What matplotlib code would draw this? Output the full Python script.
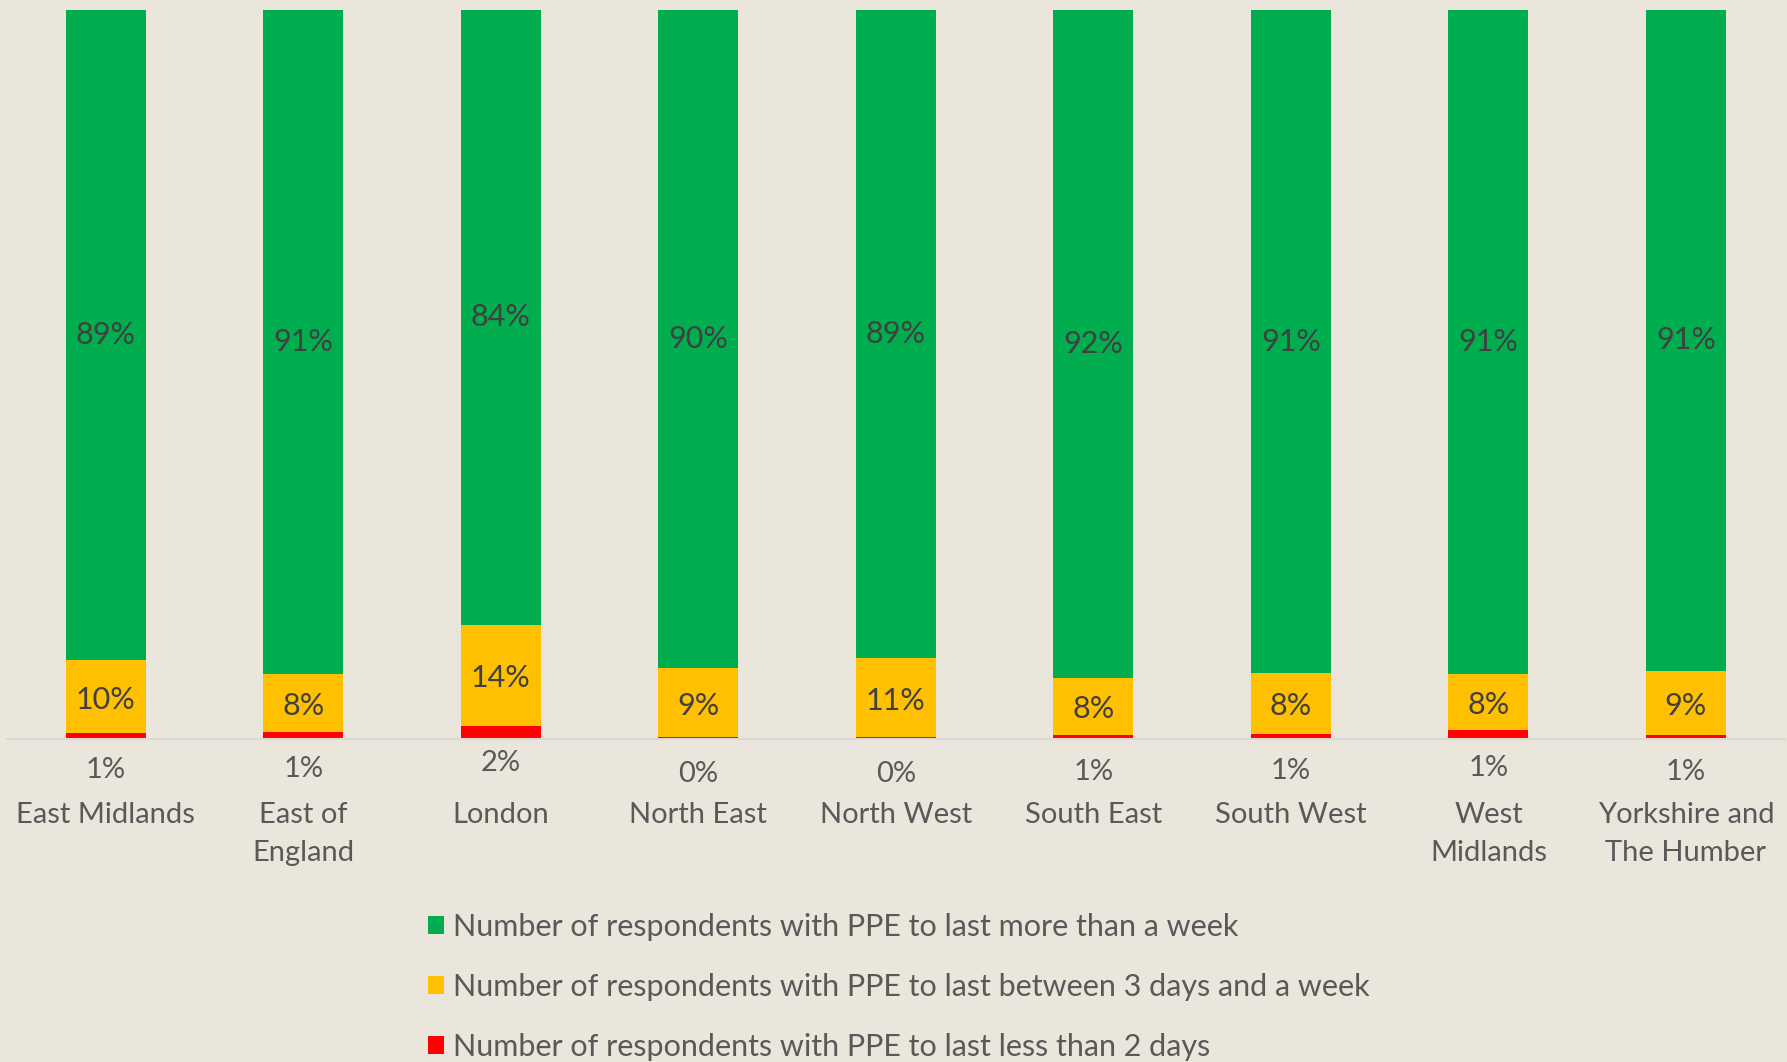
import matplotlib
matplotlib.use("Agg")
import matplotlib.pyplot as plt
import numpy as np

regions = ["East Midlands", "East of\nEngland", "London", "North East", "North West",
           "South East", "South West", "West\nMidlands", "Yorkshire and\nThe Humber"]
more_week = [89.2, 91.0, 84.3, 90.3, 88.9, 91.6, 90.9, 91.0, 90.6]
three_days_week = [10.0, 8.0, 13.9, 9.4, 10.8, 7.8, 8.4, 7.8, 8.8]
less_2days = [0.8, 1.0, 1.8, 0.3, 0.3, 0.6, 0.7, 1.2, 0.6]
legend_labels = ["Number of respondents with PPE to last more than a week",
                 "Number of respondents with PPE to last between 3 days and a week",
                 "Number of respondents with PPE to last less than 2 days"]

BG = "#EBE6DC"
GREEN = "#00AD4F"
YELLOW = "#FFC000"
RED = "#FF0000"
TXT = "#404040"
TICK = "#595959"

plt.rcParams['font.family'] = ['Lato', 'DejaVu Sans']

fig = plt.figure(figsize=(17.87, 10.62), dpi=100, facecolor=BG)
ax = fig.add_axes([0.004, 0.304, 0.9947, 0.6864], facecolor=BG)

x = np.arange(len(regions))
w = 0.405
red = np.array(less_2days)
yel = np.array(three_days_week)
grn = np.array(more_week)

b_red = ax.bar(x, red, w, color=RED, edgecolor="none")
b_yel = ax.bar(x, yel, w, bottom=red, color=YELLOW, edgecolor="none")
b_grn = ax.bar(x, grn, w, bottom=red + yel, color=GREEN, edgecolor="none")

for i in range(len(regions)):
    ax.text(x[i], red[i] + yel[i] + grn[i] / 2, f"{grn[i]:.0f}%", ha="center", va="center",
            fontsize=22, color=TXT)
    ax.text(x[i], red[i] + yel[i] / 2 - 0.4, f"{yel[i]:.0f}%", ha="center", va="center",
            fontsize=22, color=TXT)
    ax.text(x[i], red[i] - 5.1, f"{red[i]:.0f}%", ha="center", va="center",
            fontsize=21, color=TICK)

ax.set_xlim(-0.5, len(regions) - 0.5)
ax.set_ylim(0, 100)
ax.set_yticks([])
ax.set_xticks(x)
ax.set_xticklabels(regions, fontsize=21, color=TICK, linespacing=1.6)
ax.tick_params(axis="x", length=0, pad=45)
for s in ["top", "left", "right"]:
    ax.spines[s].set_visible(False)
ax.spines["bottom"].set_color("#D9D9D9")
ax.spines["bottom"].set_linewidth(1.5)

fig.legend([b_grn, b_yel, b_red], legend_labels, loc="upper left",
           bbox_to_anchor=(0.2397, 0.1406), frameon=False, fontsize=22,
           labelcolor=TICK, handlelength=0.5, handleheight=0.5,
           handletextpad=0.3, labelspacing=1.05, borderaxespad=0, borderpad=0)

fig.savefig("out.png", dpi=100, facecolor=BG)
